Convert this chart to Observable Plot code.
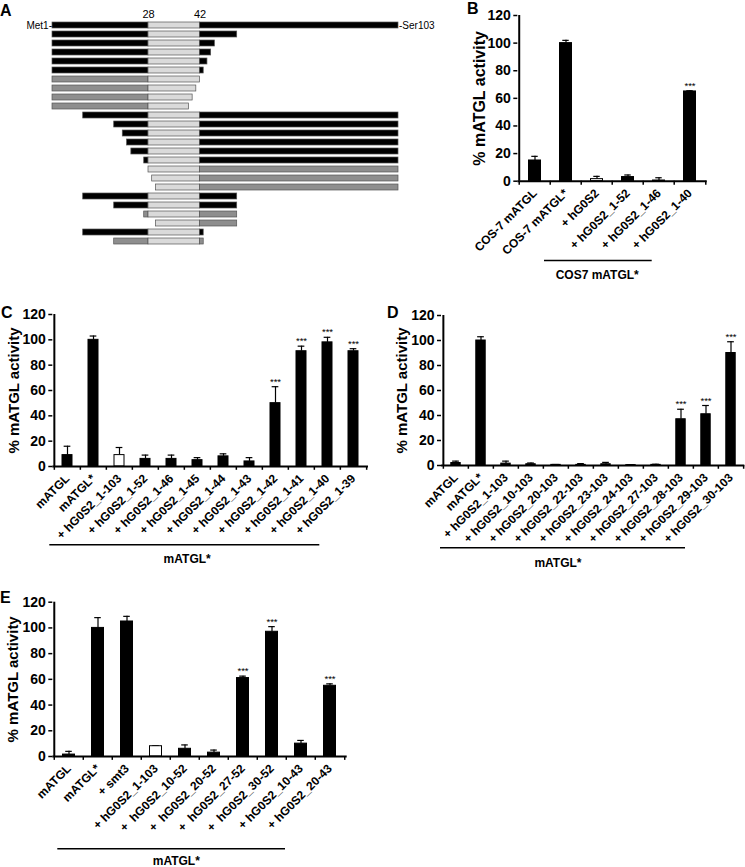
<!DOCTYPE html>
<html><head><meta charset="utf-8">
<script src="https://cdn.jsdelivr.net/npm/d3@7"></script>
<script src="https://cdn.jsdelivr.net/npm/@observablehq/plot@0.6"></script>
<style>
body{margin:0;background:#fff;}
#fig{position:relative;width:745px;height:867px;overflow:hidden;font-family:"Liberation Sans",Arial,Helvetica,sans-serif;background:#fff;}
.letter{position:absolute;font-weight:bold;font-size:16px;line-height:1;}
</style></head><body><div id="fig"></div>
<script>
const FONT = '"Liberation Sans", Arial, Helvetica, sans-serif';

// ---- Panel A: constructs (residue start, end, shading) ----
const A_start = [1,1,1,1,1,1,1,1,1,1,10,20,22,23,24,27,28,29,30,10,20,27,30,10,20];
const A_end   = [103,52,46,45,44,43,42,41,40,39,103,103,103,103,103,103,103,103,103,52,52,52,52,43,43];
const A_shade = ["dark","dark","dark","dark","dark","dark","grey","grey","grey","grey",
                 "dark","dark","dark","dark","dark","dark","grey","grey","grey",
                 "dark","dark","grey","grey","dark","grey"];
const A_core = [28, 42];

// ---- Panel B ----
const B_cats = ["COS-7 mATGL","COS-7 mATGL*","+ hG0S2","+ hG0S2_1-52","+ hG0S2_1-46","+ hG0S2_1-40"];
const B_vals = [15,100,1.5,3,0.5,65];
const B_errs = [3,2,2,1.5,2,0.5];
const B_open = [2,4];
const B_sig  = ["","","","","","***"];

// ---- Panel C ----
const C_cats = ["mATGL","mATGL*","+ hG0S2_1-103","+ hG0S2_1-52","+ hG0S2_1-46","+ hG0S2_1-45","+ hG0S2_1-44","+ hG0S2_1-43","+ hG0S2_1-42","+ hG0S2_1-41","+ hG0S2_1-40","+ hG0S2_1-39"];
const C_vals = [9,100,9,6,6,5,8,4,50,91,98,91];
const C_errs = [7,3,6,3,3,2,2,3,13,4,4,2];
const C_open = [2];
const C_sig  = ["","","","","","","","","***","***","***","***"];

// ---- Panel D ----
const D_cats = ["mATGL","mATGL*","+ hG0S2_1-103","+ hG0S2_10-103","+ hG0S2_20-103","+ hG0S2_22-103","+ hG0S2_23-103","+ hG0S2_24-103","+ hG0S2_27-103","+ hG0S2_28-103","+ hG0S2_29-103","+ hG0S2_30-103"];
const D_vals = [2,100,1.5,1,0.5,0.5,1,0.3,0.5,37,41,90];
const D_errs = [1.5,3,2,1,0.3,1,1.5,0.3,0.5,8,7,9];
const D_open = [];
const D_sig  = ["","","","","","","","","","***","***","***"];

// ---- Panel E ----
const E_cats = ["mATGL","mATGL*","+ smt3","+ hG0S2_1-103","+  hG0S2_10-52","+  hG0S2_20-52","+  hG0S2_27-52","+  hG0S2_30-52","+ hG0S2_10-43","+ hG0S2_20-43"];
const E_vals = [1.5,100,105,8,6,3,61,97,10,55];
const E_errs = [2.5,8,4,0.5,3,2,1.5,4,2.5,1.5];
const E_open = [3];
const E_sig  = ["","","","","","","***","***","","***"];

const yTicks = [0,20,40,60,80,100,120];
const yLabel = "% mATGL activity";
const groupLabels = {B: "COS7 mATGL*", C: "mATGL*", D: "mATGL*", E: "mATGL*"};

const fig = document.getElementById("fig");
function place(svg, left, top) {
  svg.style.position = "absolute";
  svg.style.left = left + "px";
  svg.style.top = top + "px";
  fig.appendChild(svg);
}

// ---------- Panel A ----------
(function () {
  const colors = {dark: "#000000", grey: "#8e8e8e", core: "#dadada"};
  // schematic (non-uniform) residue axis, as in the drawing
  const schematic = d3.scaleLinear().domain([1, 10, 20, 28, 42, 52, 103]).range([52, 82.7, 113.7, 148, 199.5, 236.7, 398]);
  const segs = [];
  A_start.forEach((s, i) => {
    const e = A_end[i];
    if (s < A_core[0]) segs.push({row: i, a: s, b: Math.min(e, A_core[0]), fill: colors[A_shade[i]]});
    if (e > A_core[0]) segs.push({row: i, a: Math.max(s, A_core[0]), b: Math.min(e, A_core[1]), fill: colors.core});
    if (e > A_core[1]) segs.push({row: i, a: A_core[1], b: e, fill: colors[A_shade[i]]});
  });
  const svg = Plot.plot({
    width: 455, height: 258, margin: 0,
    style: {background: "transparent", fontFamily: FONT, color: "black"},
    x: {type: "linear", transform: schematic, domain: [0, 455], range: [0, 455], axis: null},
    y: {type: "band", domain: d3.range(A_start.length), range: [11.6, 254.4], padding: 0.34, axis: null},
    color: {type: "identity"},
    marks: [
      Plot.barX(segs, {x1: "a", x2: "b", y: "row", fill: "fill", stroke: "#555", strokeWidth: 0.7}),
      Plot.text(A_core, {x: d => d, frameAnchor: "top", dy: 10, text: d => String(d), fontSize: 11}),
      Plot.text(["Met1-"], {x: () => A_start[0], y: () => 0, textAnchor: "end", fontSize: 10, dx: -0.5}),
      Plot.text(["-Ser103"], {x: () => A_end[0], y: () => 0, textAnchor: "start", fontSize: 10, dx: 0.5})
    ]
  });
  place(svg, 0, 0);
})();

// ---------- Bar panels ----------
function barPanel(p) {
  const n = p.cats.length, step = (p.x1 - p.x0) / n;
  const rows = p.cats.map((c, i) => ({c, v: p.vals[i], e: p.errs[i], fill: p.open.includes(i) ? "white" : "black", s: p.sig[i]}));
  const capInset = (step - 7) / 2;
  const svg = Plot.plot({
    width: p.w, height: p.h,
    marginLeft: p.x0 - p.left, marginRight: p.left + p.w - p.x1,
    marginTop: p.y120 - p.top, marginBottom: p.top + p.h - p.y0,
    style: {background: "transparent", fontFamily: FONT, color: "black"},
    x: {type: "band", domain: p.cats, padding: 0},
    y: {domain: [0, 120]},
    color: {type: "identity"},
    marks: [
      Plot.ruleX(rows, {x: "c", y1: "v", y2: d => d.v + d.e, stroke: "black", strokeWidth: 1.2}),
      Plot.tickY(rows, {x: "c", y: d => d.v + d.e, stroke: "black", strokeWidth: 1.2, insetLeft: capInset, insetRight: capInset}),
      Plot.barY(rows, {x: "c", y: "v", fill: "fill", stroke: "black", strokeWidth: 1, insetLeft: p.inset, insetRight: p.inset}),
      Plot.text(rows.filter(d => d.s), {x: "c", y: d => d.v + d.e, text: "s", dy: -5, fontSize: 9.5}),
      Plot.axisY({ticks: yTicks, tickSize: 4, tickPadding: 3, fontSize: p.tickFont, fontWeight: "bold", label: null, strokeWidth: 1.5}),
      Plot.axisX({tickSize: 0, tickRotate: -45, tickPadding: p.labPad, fontSize: 12, fontWeight: "bold", label: null}),
      Plot.ruleY([0], {strokeWidth: 2}),
      Plot.ruleX([p.cats[0]], {y1: 0, y2: 120, dx: -step / 2, strokeWidth: 2}),
      Plot.ruleX(p.cats, {y1: 0, y2: -3, dx: -step / 2, strokeWidth: 1.5}),
      Plot.ruleX([p.cats[n - 1]], {y1: 0, y2: -3, dx: step / 2, strokeWidth: 1.5}),
      Plot.ruleY([0], {dy: p.lineDy, insetLeft: p.lineL, insetRight: p.lineR, strokeWidth: 1.5}),
      Plot.text([p.group], {frameAnchor: "bottom", lineAnchor: "middle", dx: p.gDx, dy: p.gDy, fontSize: 12, fontWeight: "bold"}),
      Plot.text([yLabel], {frameAnchor: "left", textAnchor: "middle", rotate: -90, dx: p.yDx, fontSize: p.yFont, fontWeight: "bold"})
    ]
  });
  place(svg, p.left, p.top);
}

barPanel({cats: B_cats, vals: B_vals, errs: B_errs, open: B_open, sig: B_sig, group: groupLabels.B,
  left: 460, top: 0, w: 285, h: 300, x0: 517.3, x1: 706.7, y120: 15, y0: 180.7,
  inset: 9.5, tickFont: 14, labPad: 10, lineDy: 79.3, lineL: 26.7, lineR: 55, gDx: -15.3, gDy: 94.3, yDx: -38, yFont: 16});

barPanel({cats: C_cats, vals: C_vals, errs: C_errs, open: C_open, sig: C_sig, group: groupLabels.C,
  left: 0, top: 305, w: 375, h: 262, x0: 52.3, x1: 368, y120: 314, y0: 466,
  inset: 8, tickFont: 14, labPad: 10, lineDy: 78.3, lineL: -3, lineR: 48.7, gDx: -23.5, gDy: 92.5, yDx: -39, yFont: 15});

barPanel({cats: D_cats, vals: D_vals, errs: D_errs, open: D_open, sig: D_sig, group: groupLabels.D,
  left: 380, top: 305, w: 365, h: 265, x0: 441, x1: 744.3, y120: 315, y0: 465,
  inset: 7.8, tickFont: 14, labPad: 10, lineDy: 82.3, lineL: -1, lineR: 59.3, gDx: -35.2, gDy: 97.5, yDx: -39, yFont: 15});

barPanel({cats: E_cats, vals: E_vals, errs: E_errs, open: E_open, sig: E_sig, group: groupLabels.E,
  left: 0, top: 590, w: 375, h: 277, x0: 52.3, x1: 346.7, y120: 601.7, y0: 756,
  inset: 8.5, tickFont: 14, labPad: 10, lineDy: 92.3, lineL: 5, lineR: 61.7, gDx: -23.7, gDy: 105, yDx: -40, yFont: 15});

// panel letters
[["A", 0, 3], ["B", 467, 1], ["C", 1, 305], ["D", 387, 305], ["E", 0, 590]].forEach(([t, x, y]) => {
  const d = document.createElement("div");
  d.className = "letter"; d.textContent = t;
  d.style.left = x + "px"; d.style.top = y + "px";
  fig.appendChild(d);
});
</script></body></html>
